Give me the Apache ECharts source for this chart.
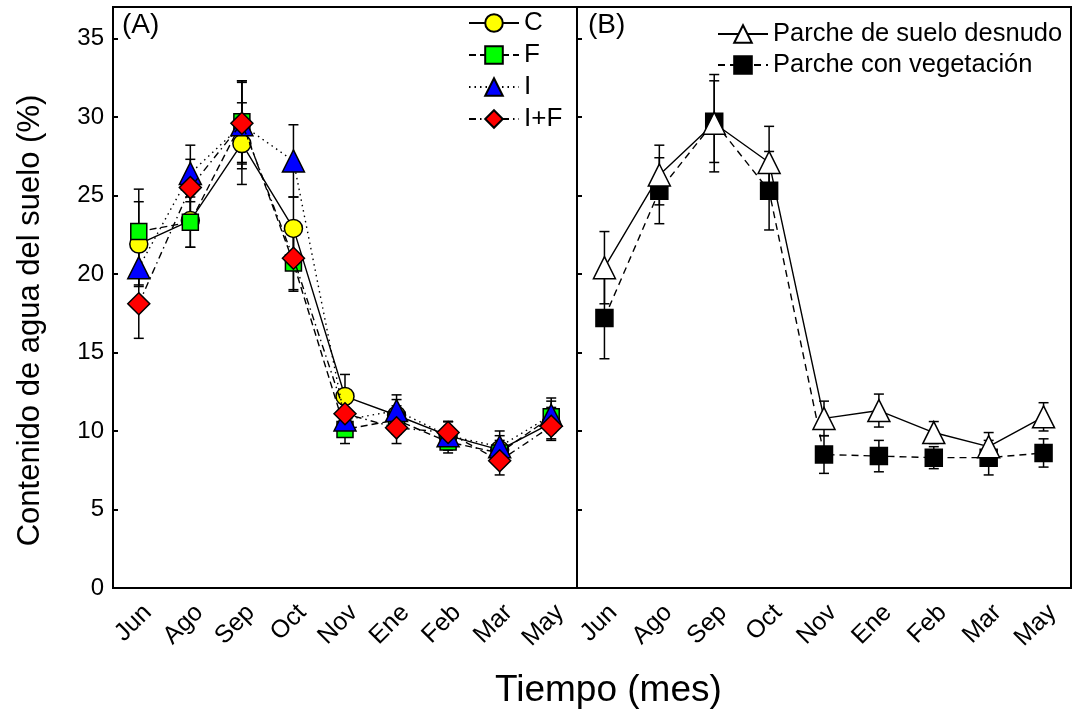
<!DOCTYPE html>
<html><head><meta charset="utf-8">
<script src="https://cdn.jsdelivr.net/npm/echarts@6/dist/echarts.min.js"></script>
<style>html,body{margin:0;padding:0;background:#fff}#c{width:1075px;height:709px}</style>
</head><body><div id="c"></div>
<script>
const months = ['Jun','Ago','Sep','Oct','Nov','Ene','Feb','Mar','May'];
const yTicks = [0,5,10,15,20,25,30,35];
// Panel A
const C    = [21.9, 23.4, 28.3, 22.9, 12.2, 11.0, 9.7, 8.8, 10.5];
const Cerr = [2.7, 1.7, 2.6, 2.0, 1.4, 1.0, 0.9, 0.9, 1.0];
const F    = [22.7, 23.3, 29.7, 20.7, 10.1, 10.7, 9.3, 8.6, 10.9];
const Ferr = [2.7, 1.6, 2.6, 1.8, 0.9, 0.9, 0.7, 0.8, 1.0];
const I    = [20.4, 26.4, 29.5, 27.2, 10.7, 11.3, 9.7, 9.0, 11.0];
const Ierr = [1.1, 1.8, 2.8, 2.3, 1.0, 1.0, 0.9, 1.0, 1.1];
const IF   = [18.1, 25.5, 29.6, 21.0, 11.1, 10.2, 9.9, 8.1, 10.3];
const IFerr= [2.2, 1.8, 2.6, 2.0, 1.0, 1.0, 0.7, 0.9, 0.9];
// Panel B
const bare    = [20.4, 26.3, 29.6, 27.1, 10.8, 11.3, 9.9, 9.0, 10.9];
const bareErr = [2.3, 1.9, 3.1, 2.3, 1.1, 1.05, 0.7, 0.9, 0.9];
const veg     = [17.2, 25.3, 29.7, 25.3, 8.5, 8.4, 8.3, 8.3, 8.6];
const vegErr  = [2.6, 2.1, 2.6, 2.5, 1.2, 1.0, 0.7, 1.1, 0.9];

const FONT = 'Liberation Sans, Arial, sans-serif';
const chart = echarts.init(document.getElementById('c'));

function errRender(params, api){
  const x = api.value(0), y = api.value(1), e = api.value(2);
  const t = api.coord([x, y + e]), b = api.coord([x, y - e]);
  const w = 5;
  const st = {stroke:'#000', lineWidth:1.5};
  return {type:'group', children:[
    {type:'line', shape:{x1:t[0],y1:t[1],x2:b[0],y2:b[1]}, style:st},
    {type:'line', shape:{x1:t[0]-w,y1:t[1],x2:t[0]+w,y2:t[1]}, style:st},
    {type:'line', shape:{x1:b[0]-w,y1:b[1],x2:b[0]+w,y2:b[1]}, style:st}
  ]};
}
function errSeries(vals, errs, idx){
  return {type:'custom', name:'err', xAxisIndex:idx, yAxisIndex:idx, z:1,
    renderItem: errRender, data: months.map((m,i)=>[i, vals[i], errs[i]]), silent:true};
}
function lineSeries(name, vals, idx, dash, symbol, size, color, z){
  return {type:'line', name, xAxisIndex:idx, yAxisIndex:idx, data: vals, z,
    symbol, symbolSize:size, showAllSymbol:true,
    lineStyle:{color:'#000', width:1.4, type:dash},
    itemStyle:{color, borderColor:'#000', borderWidth:1.5},
    emphasis:{disabled:true}};
}
function xAx(idx){
  return {type:'category', gridIndex:idx, data:months, boundaryGap:true,
    axisLine:{lineStyle:{color:'#000', width:2}},
    axisTick:{inside:true, alignWithLabel:true, length:5, lineStyle:{color:'#000', width:2}},
    axisLabel:{rotate:45, fontSize:25, color:'#000', fontFamily:FONT, margin:12, verticalAlign:'top'},
    splitLine:{show:false}};
}
function yAx(idx, labels){
  return {type:'value', gridIndex:idx, min:0, max:37, interval:5,
    axisLine:{show:true, lineStyle:{color:'#000', width:2}},
    axisTick:{show:true, inside:true, length:5, lineStyle:{color:'#000', width:2}},
    axisLabel:{show:labels, fontSize:24, color:'#000', fontFamily:FONT, margin:9,
      formatter: v => yTicks.includes(v) ? String(v) : ''},
    splitLine:{show:false},
    name: labels ? 'Contenido de agua del suelo (%)' : '',
    nameLocation:'middle', nameGap:67,
    nameTextStyle:{fontSize:31, color:'#000', fontFamily:FONT, padding:[0,46,0,0]}};
}
chart.setOption({
  animation:false,
  backgroundColor:'#fff',
  grid:[
    {left:113, top:7, width:464, height:581, show:true, borderColor:'#000', borderWidth:2},
    {left:577, top:7, width:494, height:581, show:true, borderColor:'#000', borderWidth:2}
  ],
  xAxis:[xAx(0), xAx(1)],
  yAxis:[yAx(0,true), yAx(1,false)],
  title:[
    {text:'(A)', left:117, top:6, textStyle:{fontSize:28, fontWeight:'normal', color:'#000', fontFamily:FONT}},
    {text:'(B)', left:583, top:6, textStyle:{fontSize:28, fontWeight:'normal', color:'#000', fontFamily:FONT}},
    {text:'Tiempo (mes)', left:490, top:667, textStyle:{fontSize:37, fontWeight:'normal', color:'#000', fontFamily:FONT}}
  ],
  legend:[
    {data:['C','F','I','I+F'], orient:'vertical', left:463, top:5, itemWidth:50, itemHeight:22, itemGap:6,
      textStyle:{fontSize:26, color:'#000', fontFamily:FONT}, selectedMode:false},
    {data:['Parche de suelo desnudo','Parche con vegetación'], orient:'vertical', left:712, top:16, itemWidth:50, itemHeight:22, itemGap:5,
      textStyle:{fontSize:25.5, color:'#000', fontFamily:FONT}, selectedMode:false}
  ],
  series:[
    errSeries(C, Cerr, 0), errSeries(F, Ferr, 0), errSeries(I, Ierr, 0), errSeries(IF, IFerr, 0),
    lineSeries('C', C, 0, 'solid', 'circle', 18, '#ffff00', 3),
    lineSeries('F', F, 0, [7,4], 'rect', 16, '#00ff00', 4),
    lineSeries('I', I, 0, [1.5,4], 'triangle', 22, '#0000ff', 5),
    lineSeries('I+F', IF, 0, [7,4,1.5,4], 'diamond', 22, '#ff0000', 6),
    errSeries(bare, bareErr, 1), errSeries(veg, vegErr, 1),
    lineSeries('Parche de suelo desnudo', bare, 1, 'solid', 'triangle', 22, '#ffffff', 4),
    lineSeries('Parche con vegetación', veg, 1, [7,5], 'rect', 17, '#000000', 3)
  ]
});
</script></body></html>
